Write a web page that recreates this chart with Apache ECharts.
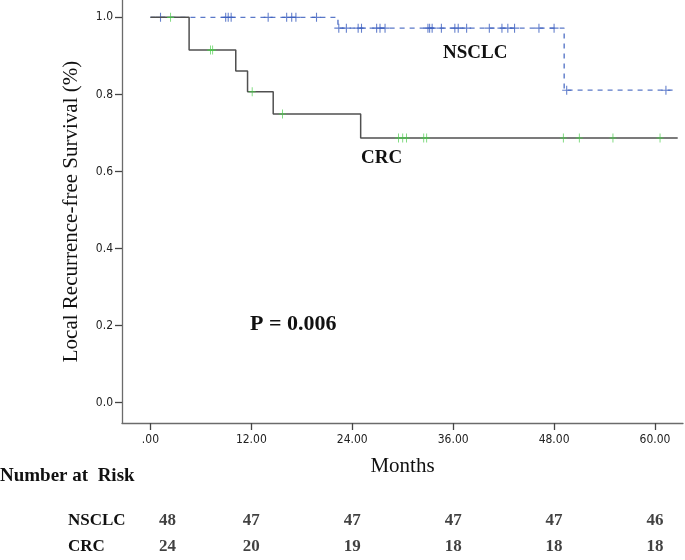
<!DOCTYPE html>
<html>
<head>
<meta charset="utf-8">
<style>
html,body{margin:0;padding:0;background:#fff;}
#chart{width:685px;height:560px;}
</style>
<script src="https://cdn.jsdelivr.net/npm/echarts@6/dist/echarts.min.js"></script>
</head>
<body>
<div id="chart"></div>
<script>
// ---- Data ----
var xTicks = [0, 12, 24, 36, 48, 60];
var yTicks = [0, 0.2, 0.4, 0.6, 0.8, 1.0];

// NSCLC Kaplan-Meier steps
var nsclcTimes = [0, 22.3, 49.2, 62.6];
var nsclcSurv  = [1.0, 0.972, 0.811, 0.811];
// NSCLC censored observations
var nsclcCensorT = [1.2, 8.95, 9.25, 9.6, 14.0, 16.2, 16.8, 17.3, 19.75,
                    22.4, 23.3, 24.7, 25.1, 26.9, 27.3, 27.9, 33.0, 33.2, 33.5, 34.6,
                    36.2, 36.6, 37.6, 40.3, 41.8, 42.5, 43.3, 46.2, 48.0,
                    49.5, 61.3];
var nsclcCensorS = [1, 1, 1, 1, 1, 1, 1, 1, 1,
                    0.972, 0.972, 0.972, 0.972, 0.972, 0.972, 0.972, 0.972, 0.972, 0.972, 0.972,
                    0.972, 0.972, 0.972, 0.972, 0.972, 0.972, 0.972, 0.972, 0.972,
                    0.811, 0.811];

// CRC Kaplan-Meier steps
var crcTimes = [0, 4.6, 10.15, 11.55, 14.6, 25.0, 62.7];
var crcSurv  = [1.0, 0.915, 0.861, 0.807, 0.749, 0.687, 0.687];
// CRC censored observations
var crcCensorT = [2.4, 7.15, 7.4, 12.1, 15.7, 29.5, 30.0, 30.45, 32.5, 32.85, 49.1, 51.0, 55.0, 60.6];
var crcCensorS = [1.0, 0.915, 0.915, 0.807, 0.749, 0.687, 0.687, 0.687, 0.687, 0.687, 0.687, 0.687, 0.687, 0.687];

// Number at risk
var riskGroups = ['CRC', 'NSCLC'];
var riskTimes = [0, 12, 24, 36, 48, 60];
var riskNSCLC = [48, 47, 47, 47, 47, 46];
var riskCRC   = [24, 20, 19, 18, 18, 18];

function zip(a, b) { return a.map(function (v, i) { return [v, b[i]]; }); }

var plusPath = 'path://M0,4.4L10,4.4L10,5.6L0,5.6Z M4.4,0L5.6,0L5.6,10L4.4,10Z';
var serif = "'Liberation Serif', 'Times New Roman', serif";
var narrow = "'DejaVu Sans Condensed', 'Liberation Sans Narrow', 'Liberation Sans', sans-serif";
var axisColor = '#6b6b6b';

var riskData = [];
riskNSCLC.forEach(function (v, i) {
  var item = { value: [riskTimes[i], 'NSCLC', v] };
  if (i === 0) item.label = { offset: [17, 0] };
  riskData.push(item);
});
riskCRC.forEach(function (v, i) {
  var item = { value: [riskTimes[i], 'CRC', v] };
  if (i === 0) item.label = { offset: [17, 0] };
  riskData.push(item);
});

var chart = echarts.init(document.getElementById('chart'), null, { renderer: 'canvas' });
chart.setOption({
  animation: false,
  backgroundColor: '#ffffff',
  grid: [
    { left: 122, top: 0, width: 561, height: 423 },
    { left: 122, top: 507, width: 561, height: 56 }
  ],
  xAxis: [
    {
      gridIndex: 0, type: 'value', min: -3.38, max: 63.33,
      axisLine: { show: true, onZero: false, lineStyle: { color: axisColor, width: 1.3 } },
      axisTick: { show: true, length: 7, customValues: xTicks, lineStyle: { color: '#444', width: 1.3 } },
      axisLabel: {
        customValues: xTicks, margin: 11, color: '#222', fontFamily: narrow, fontSize: 12,
        formatter: function (v) { return v === 0 ? '.00' : v.toFixed(2); }
      },
      splitLine: { show: false },
      name: 'Months', nameLocation: 'middle', nameGap: 33,
      nameTextStyle: { fontFamily: serif, fontSize: 21, color: '#111' }
    },
    {
      gridIndex: 1, type: 'value', min: -3.38, max: 63.33, show: false
    }
  ],
  yAxis: [
    {
      gridIndex: 0, type: 'value', min: -0.0527, max: 1.045,
      axisLine: { show: true, onZero: false, lineStyle: { color: axisColor, width: 1.3 } },
      axisTick: { show: true, length: 7, customValues: yTicks, lineStyle: { color: '#444', width: 1.3 } },
      axisLabel: {
        customValues: yTicks, margin: 9, color: '#222', fontFamily: narrow, fontSize: 12,
        formatter: function (v) { return v.toFixed(1); }
      },
      splitLine: { show: false },
      name: 'Local Recurrence-free Survival (%)', nameLocation: 'middle', nameGap: 40,
      nameTextStyle: { fontFamily: serif, fontSize: 21, color: '#111' }
    },
    {
      gridIndex: 1, type: 'category', data: riskGroups,
      axisLine: { show: false }, axisTick: { show: false },
      axisLabel: {
        align: 'left', margin: 54, fontFamily: serif, fontWeight: 'bold', fontSize: 17, color: '#111'
      }
    }
  ],
  series: [
    {
      name: 'NSCLC', type: 'line', step: 'end', xAxisIndex: 0, yAxisIndex: 0,
      data: zip(nsclcTimes, nsclcSurv), symbol: 'none', z: 2,
      lineStyle: { color: '#5a78c8', width: 1.4, type: [5, 5] }
    },
    {
      name: 'NSCLC censored', type: 'scatter', xAxisIndex: 0, yAxisIndex: 0,
      data: zip(nsclcCensorT, nsclcCensorS), symbol: plusPath, symbolSize: 9, z: 3,
      itemStyle: { color: '#3c5fbf' }
    },
    {
      name: 'CRC', type: 'line', step: 'end', xAxisIndex: 0, yAxisIndex: 0,
      data: zip(crcTimes, crcSurv), symbol: 'none', z: 4,
      lineStyle: { color: '#505050', width: 1.5 }
    },
    {
      name: 'CRC censored', type: 'scatter', xAxisIndex: 0, yAxisIndex: 0,
      data: zip(crcCensorT, crcCensorS), symbol: plusPath, symbolSize: [7, 9], z: 5,
      itemStyle: { color: '#48cc48' }
    },
    {
      name: 'At risk', type: 'scatter', xAxisIndex: 1, yAxisIndex: 1,
      data: riskData, symbolSize: 0,
      label: {
        show: true, position: 'inside', fontFamily: serif, fontWeight: 'bold', fontSize: 17, color: '#111',
        formatter: function (p) { return String(p.value[2]); }
      }
    }
  ],
  graphic: [
    { type: 'text', left: 443, top: 44, style: { text: 'NSCLC', font: 'bold 19px ' + serif, fill: '#111' } },
    { type: 'text', left: 361, top: 149, style: { text: 'CRC', font: 'bold 19px ' + serif, fill: '#111' } },
    { type: 'text', left: 250, top: 313, style: { text: 'P = 0.006', font: 'bold 22px ' + serif, fill: '#111' } },
    { type: 'text', left: 0, top: 467, style: { text: 'Number at  Risk', font: 'bold 19px ' + serif, fill: '#111' } }
  ]
});
</script>
</body>
</html>
